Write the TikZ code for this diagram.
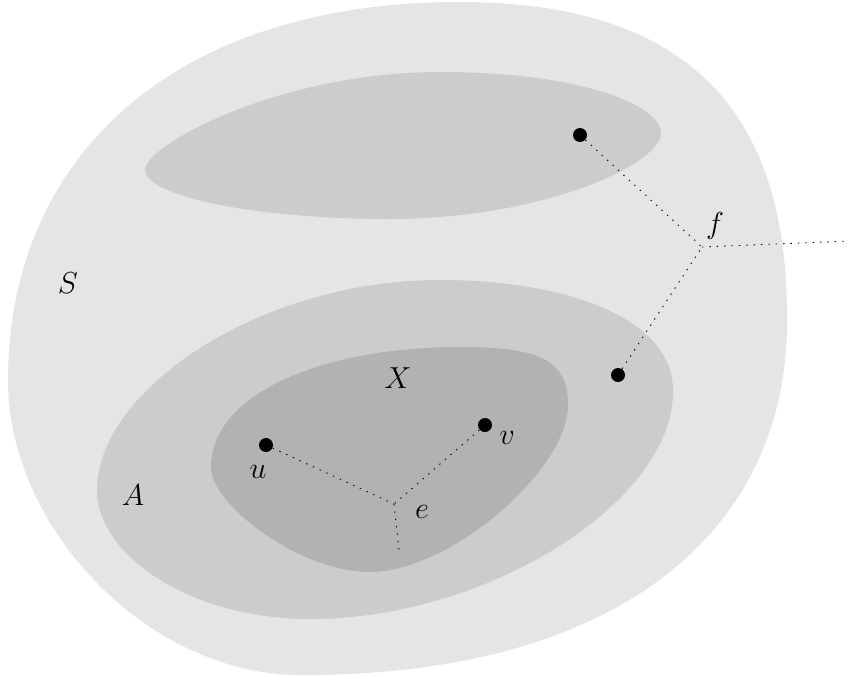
\documentclass[tikz,border=0pt]{standalone}
\begin{document}
\begin{tikzpicture}[x=0.02cm,y=-0.02cm,
  regS/.style={fill=black!10,draw=none},
  regA/.style={fill=black!20,draw=none},
  regX/.style={fill=black!30,draw=none},
  vtx/.style={circle,fill=black,inner sep=0pt,minimum size=0.28cm},
  hedge/.style={line width=0.5pt,dash pattern=on 0.8pt off 3.4pt},
  lbl/.style={font=\LARGE,inner sep=0pt}]
\useasboundingbox (0,0) rectangle (849,677);
% outer region S
\fill[regS] (460,2) .. controls (705,2) and (788,129) .. (787,320)
  .. controls (788,530) and (620,676) .. (300,675)
  .. controls (150,675) and (8,530) .. (8,380)
  .. controls (8,160) and (170,2) .. (460,2) -- cycle;
% upper region
\fill[regA] (145,170) .. controls (145,145) and (280,72) .. (440,72)
  .. controls (580,72) and (661,105) .. (661,133)
  .. controls (661,165) and (540,219) .. (390,219)
  .. controls (250,219) and (145,195) .. (145,170) -- cycle;
% region A
\fill[regA] (97,490) .. controls (97,390) and (260,280) .. (440,280)
  .. controls (570,280) and (673,320) .. (673,390)
  .. controls (675,500) and (490,619) .. (310,619)
  .. controls (190,619) and (97,555) .. (97,490) -- cycle;
% region X
\fill[regX] (211,467) .. controls (211,395) and (320,347) .. (460,347)
  .. controls (540,347) and (568,360) .. (568,405)
  .. controls (568,470) and (450,572) .. (370,572)
  .. controls (300,572) and (211,505) .. (211,467) -- cycle;
% vertices
\node[vtx] (p1) at (580,135) {};
\node[vtx] (p2) at (618,375) {};
\node[vtx] (u) at (266,445) {};
\node[vtx] (v) at (485,425) {};
\coordinate (fj) at (702,247);
\coordinate (fend) at (849,241);
\coordinate (ej) at (394,504);
\coordinate (eend) at (399,550);
\draw[hedge] (p1) -- (fj);
\draw[hedge] (p2) -- (fj);
\draw[hedge] (fj) -- (fend);
\draw[hedge] (u) -- (ej);
\draw[hedge] (v) -- (ej);
\draw[hedge] (ej) -- (eend);
% labels
\node[lbl] (lS) at (68,283) {$S$};
\node[lbl] (lA) at (133,495) {$A$};
\node[lbl] (lX) at (398,378) {$X$};
\node[lbl] (lu) at (258,472) {$u$};
\node[lbl] (lv) at (507,438) {$v$};
\node[lbl] (le) at (422,512) {$e$};
\node[lbl] (lf) at (715,226) {$f$};
\end{tikzpicture}
\end{document}
